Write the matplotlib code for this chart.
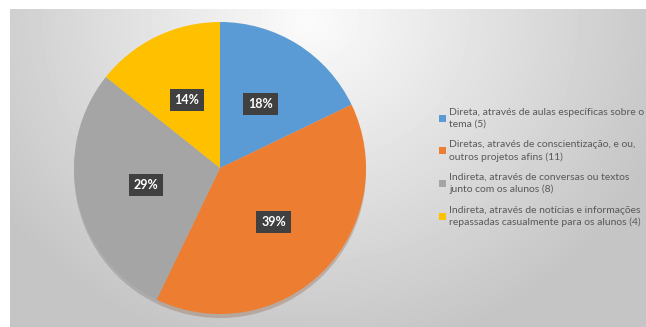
import numpy as np
import matplotlib
matplotlib.use('Agg')
import matplotlib.pyplot as plt

labels = [
    'Direta, através de aulas específicas sobre o\ntema (5)',
    'Diretas, através de conscientização, e ou,\noutros projetos afins (11)',
    'Indireta, através de conversas ou textos\njunto com os alunos (8)',
    'Indireta, através de notícias e informações\nrepassadas casualmente para os alunos (4)',
]
counts = [5, 11, 8, 4]
colors = ['#5B9BD5', '#ED7D31', '#A5A5A5', '#FFC000']

W, H = 646, 327
fig = plt.figure(figsize=(W / 100, H / 100), dpi=100)
fig.patch.set_facecolor('white')

# chart area background: soft radial gradient, light near the top middle
bg = fig.add_axes([10 / W, 0, 1 - 10 / W, 1 - 9 / H])
yy, xx = np.mgrid[0:318, 0:636]
d = np.sqrt(((xx - 300) / 420) ** 2 + ((yy - 10) / 380) ** 2)
shade = np.clip(0.985 - 0.24 * d, 0.77, 0.985)
bg.imshow(shade, cmap='gray', vmin=0, vmax=1, aspect='auto', interpolation='bilinear')
bg.set_axis_off()

# pie
cx, cy, r = 220, 168, 146
ax = fig.add_axes([(cx - r) / W, (H - cy - r) / H, 2 * r / W, 2 * r / H])
ax.set_facecolor('none')
wedges, _, autotexts = ax.pie(
    counts, colors=colors, startangle=90, counterclock=False,
    autopct=lambda p: f'{p:.0f}%', pctdistance=0.52,
    wedgeprops={'linewidth': 0},
    shadow={'ox': 0.0, 'oy': -0.02, 'shade': 0.5, 'alpha': 0.25},
)
for t in autotexts:
    t.set_color('white')
    t.set_fontweight('bold')
    t.set_fontsize(9)
    t.set_family(['Lato', 'DejaVu Sans'])
    t.set_bbox(dict(boxstyle='square,pad=0.4', facecolor='#404040', edgecolor='none'))
ax.set_xlim(-1, 1)
ax.set_ylim(-1, 1)
ax.set_aspect('equal')
ax.set_axis_off()

leg = fig.legend(
    wedges, labels, loc='upper left', bbox_to_anchor=(435 / W, 1 - 104 / H),
    frameon=False, handlelength=0.65, handleheight=0.65,
    handletextpad=0.35, labelspacing=1.1, borderaxespad=0,
    prop={'family': ['Lato', 'DejaVu Sans'], 'size': 7.45},
)
for t in leg.get_texts():
    t.set_color('#595959')
    t.set_linespacing(1.38)

fig.savefig('out.png', dpi=100)
